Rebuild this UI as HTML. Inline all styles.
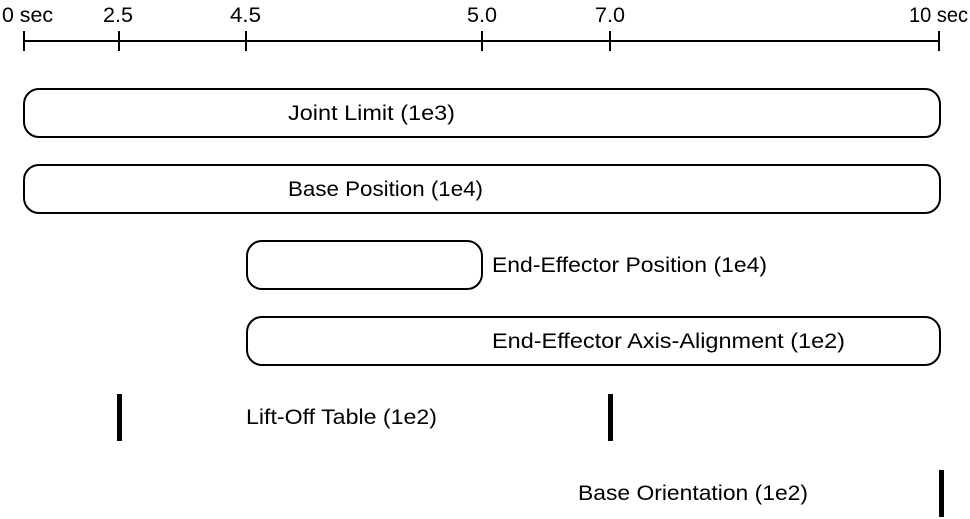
<!DOCTYPE html>
<html><head><style>
html,body{margin:0;padding:0;background:#fff;}
svg{display:block;}
text{font-family:"Liberation Sans",sans-serif;font-size:21px;fill:#000;}
</style></head><body>
<svg width="970" height="519" viewBox="0 0 970 519" xmlns="http://www.w3.org/2000/svg">
<g stroke="#000" stroke-width="2" fill="none">
<line x1="24" y1="41" x2="939" y2="41"/>
<line x1="24" y1="31" x2="24" y2="51"/>
<line x1="119" y1="31" x2="119" y2="51"/>
<line x1="246" y1="31" x2="246" y2="51"/>
<line x1="482" y1="31" x2="482" y2="51"/>
<line x1="610" y1="31" x2="610" y2="51"/>
<line x1="939" y1="31" x2="939" y2="51"/>
<rect x="24" y="89" width="916" height="48" rx="15"/>
<rect x="24" y="165" width="916" height="48" rx="15"/>
<rect x="247" y="241" width="235" height="48" rx="15"/>
<rect x="247" y="317" width="693" height="48" rx="15"/>
</g>
<rect x="117" y="394" width="5" height="47" fill="#000"/>
<rect x="608" y="394" width="5" height="47" fill="#000"/>
<rect x="939" y="470" width="5" height="47" fill="#000"/>
<g lengthAdjust="spacingAndGlyphs">
<text x="2" y="22" textLength="51" lengthAdjust="spacingAndGlyphs">0 sec</text>
<text x="103" y="22" textLength="30" lengthAdjust="spacingAndGlyphs">2.5</text>
<text x="230" y="22" textLength="31" lengthAdjust="spacingAndGlyphs">4.5</text>
<text x="467" y="22" textLength="30" lengthAdjust="spacingAndGlyphs">5.0</text>
<text x="595" y="22" textLength="30" lengthAdjust="spacingAndGlyphs">7.0</text>
<text x="909" y="22" textLength="59" lengthAdjust="spacingAndGlyphs">10 sec</text>
<text x="288" y="120" textLength="167" lengthAdjust="spacingAndGlyphs">Joint Limit (1e3)</text>
<text x="288" y="196" textLength="195" lengthAdjust="spacingAndGlyphs">Base Position (1e4)</text>
<text x="492" y="272" textLength="275" lengthAdjust="spacingAndGlyphs">End-Effector Position (1e4)</text>
<text x="492" y="348" textLength="353" lengthAdjust="spacingAndGlyphs">End-Effector Axis-Alignment (1e2)</text>
<text x="246" y="424" textLength="191" lengthAdjust="spacingAndGlyphs">Lift-Off Table (1e2)</text>
<text x="578" y="500" textLength="230" lengthAdjust="spacingAndGlyphs">Base Orientation (1e2)</text>
</g>
</svg>
</body></html>
